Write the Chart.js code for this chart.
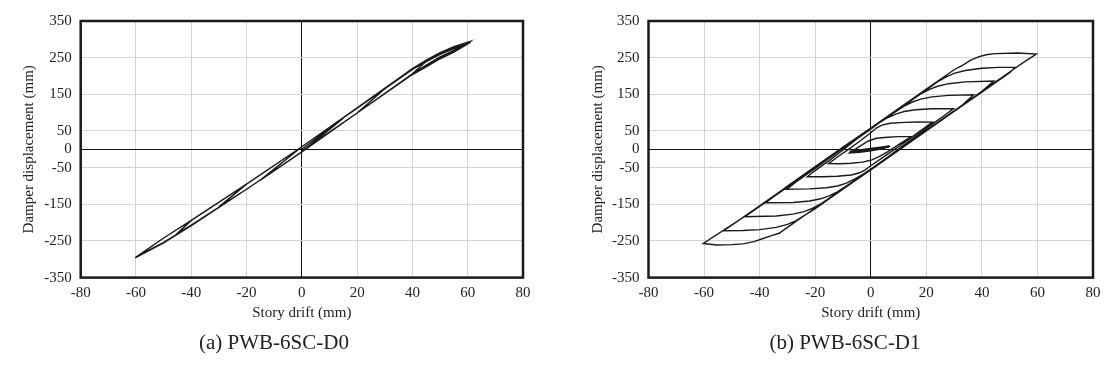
<!DOCTYPE html>
<html>
<head>
<meta charset="utf-8">
<title>Damper displacement vs story drift</title>
<script src="https://cdn.jsdelivr.net/npm/chart.js@4.4.1/dist/chart.umd.min.js"></script>
<style>
  html, body { margin: 0; padding: 0; background: #fff; }
  #wrap { position: relative; width: 1113px; height: 366px; overflow: hidden; }
  canvas { position: absolute; top: 0; }
  #chartA { left: 0; }
  #chartB { left: 556px; }
  .caption {
    position: absolute; top: 332px; line-height: 21px;
    font-family: "Liberation Serif", serif; font-size: 21px; color: #222;
    white-space: nowrap; transform: translateX(-50%);
  }
</style>
</head>
<body>
<div id="wrap">
  <canvas id="chartA" width="556" height="366"></canvas>
  <canvas id="chartB" width="557" height="366"></canvas>
  <div class="caption" id="capA" style="left:274px"></div>
  <div class="caption" id="capB" style="left:845px"></div>
</div>

<script>
/* =========================
   DATA
========================= */
const xTicks = [-80, -60, -40, -20, 0, 20, 40, 60, 80];
const yTicks = [-350, -250, -150, -50, 0, 50, 150, 250, 350];

const xTitle = "Story drift (mm)";
const yTitle = "Damper displacement (mm)";
const captions = ["(a) PWB-6SC-D0", "(b) PWB-6SC-D1"];

// (a) PWB-6SC-D0 : [story drift, damper displacement]
const curveA = [
  [0,0],[15,85],[0,-7],[-15,-84],
  [0,7],[20,113],[30,165],[20,99],[0,-7],[-20,-109],[-30,-157],
  [-20,-95],[0,7],[20,113],[40,220],[45,240],[40,206],[20,99],[0,-7],[-20,-109],[-40,-207],[-45,-229],
  [-40,-194],[-20,-95],[0,7],[20,113],[40,220],[45,243],[50,264],[55,280],[60.3,293],
  [55,270],[50,252],[45,230],[40,206],[20,99],[0,-7],[-20,-109],[-40,-208],[-50,-255],[-60.3,-296],
  [-50,-242],[-40,-194],[-20,-95],[0,7],[20,113],[40,219],[45,241],[50,262],[55,278],[60,289],
  [55,267],[50,249],[45,227],[40,205],[20,99],[0,-7],[-20,-109],[-40,-208],[-50,-254],[-60,-294],
  [-50,-242],[-40,-194],[-20,-95],[0,7],[20,112],[40,218],[45,239],[50,259],[55,275],[59.5,285],
  [55,265],[50,247],[45,225],[40,204],[20,99],[0,-5]
];

// (b) PWB-6SC-D1 : [story drift, damper displacement]
const curveB = [
  [0,0],[3,3],[6.5,6],[4,2.5],[0,-2],[-4,-5],[-7.5,-7],
  [-4,-3.5],[0,0],[3.5,4],[6.8,7],[4,3],[0,-2.5],[-4,-6],[-7.7,-8.5],
  [-4,-2],[0,2],[3.5,6],[6.5,9],[4,4.5],[0,-0.5],[-4,-4.5],[-7.5,-5.5],
  [-4,-1.5],[0,1.5],[3.5,5],[6.8,7.5],[4,1.5],[0,-4],[-4,-7.5],[-7.8,-9],
  [-4,-4],[0,0.5],[3.5,5],[7,8],[4,2],[0,-4],[-4,-8],[-7.6,-10],
  [-4,8],[-1,22],[2,30],[6,33],[10,34.5],[14.8,35],
  [13,27],[10,13],[6,-7],[3,-20],[0,-30],[-3,-35],[-7,-38],[-11,-39.5],[-15.2,-39],
  [-12,-21],[-8,0],[-4,22],[0,45],[2,58],[4,66],[7,71],[12,73.5],[17,74.5],[22.2,74],
  [20,62],[16,40],[12,18],[8,-3],[4,-24],[0,-45],[-2,-56],[-4,-64],[-7,-70],[-12,-73.5],[-17,-75],[-22.8,-75],
  [-20,-58],[-15,-31],[-10,-2],[-5,28],[0,55],[3,72],[6,86],[9,96],[12,103],[16,108],[22,110.5],[29.8,111],
  [27,95],[22,68],[17,40],[12,12],[6,-22],[0,-54],[-3,-69],[-6,-82],[-9,-93],[-12,-100],[-16,-105],[-22,-108],[-30.2,-109],
  [-27,-90],[-20,-52],[-10,3],[0,56],[5,83],[9,103],[12,118],[15,129],[18,137],[22,143],[28,147],[37,149],
  [33,121],[25,77],[15,24],[5,-29],[0,-55],[-5,-81],[-9,-101],[-12,-116],[-15,-127],[-18,-135],[-22,-141],[-28,-145],[-37.8,-146],
  [-30,-100],[-20,-47],[-10,6],[0,58],[10,111],[15,136],[18,151],[21,163],[24,172],[28,179],[34,184],[44.3,186],
  [40,158],[30,105],[20,52],[10,-1],[0,-54],[-10,-107],[-15,-134],[-18,-149],[-21,-161],[-24,-170],[-28,-177],[-34,-182],[-45.3,-184],
  [-40,-156],[-30,-103],[-20,-50],[-10,3],[0,56],[10,109],[20,162],[24,184],[27,197],[30,207],[34,215],[40,221],[46,223.5],[52,224],
  [50,209],[40,156],[30,103],[20,50],[10,-3],[0,-56],[-10,-109],[-20,-162],[-24,-181],[-27,-195],[-30,-205],[-34,-213],[-40,-219],[-46,-221.5],[-53,-222],
  [-50,-207],[-40,-154],[-30,-101],[-20,-48],[-10,5],[0,58],[10,111],[20,164],[30,217],[33,229],[36,243],[39,253],[42,258.5],[45,261],[53,262.5],[59.6,260],
  [55,237],[50,211],[40,158],[30,105],[20,52],[10,-1],[0,-54],[-10,-107],[-20,-160],[-30,-213],[-33,-229],[-36,-236],[-39,-244],[-42,-252],[-46,-258],[-50,-260],[-55.5,-261],[-60.3,-257],
  [-50,-206],[-40,-156],[-30,-103],[-20,-50],[-12,-8]
];

/* =========================
   STYLE
========================= */
const FONT = "'Liberation Serif', 'Times New Roman', serif";
const TEXT = "#222";
const GRID = "#d4d4d4";
const AXIS0 = "#111";

document.getElementById("capA").textContent = captions[0];
document.getElementById("capB").textContent = captions[1];

// black frame round the plot area
const framePlugin = {
  id: "frame",
  afterDatasetsDraw(chart) {
    const { ctx, chartArea: a } = chart;
    ctx.save();
    ctx.strokeStyle = "#1a1a1a";
    ctx.lineWidth = 2.5;
    ctx.strokeRect(a.left, a.top, a.right - a.left, a.bottom - a.top);
    ctx.restore();
  }
};

function gridColor(c) {
  return c.tick && c.tick.value === 0 ? AXIS0 : GRID;
}

function makeChart(canvasId, curve, pad, yWidth) {
  const ctx = document.getElementById(canvasId).getContext("2d");
  return new Chart(ctx, {
    type: "scatter",
    data: {
      datasets: [{
        data: curve.map(p => ({ x: p[0], y: p[1] })),
        showLine: true,
        pointRadius: 0,
        borderColor: "#1a1a1a",
        borderWidth: 1.4,
        tension: 0
      }]
    },
    options: {
      responsive: false,
      animation: false,
      devicePixelRatio: 1,
      layout: { padding: pad },
      plugins: { legend: { display: false }, tooltip: { enabled: false } },
      scales: {
        x: {
          type: "linear", min: -80, max: 80,
          afterBuildTicks: s => { s.ticks = xTicks.map(v => ({ value: v })); },
          afterFit: s => { s.height = 50; },
          ticks: { color: TEXT, font: { family: FONT, size: 15 }, padding: 6, maxRotation: 0 },
          grid: { color: gridColor, lineWidth: 1, drawTicks: false },
          border: { display: false },
          title: { display: true, text: xTitle, color: TEXT,
                   font: { family: FONT, size: 15 }, padding: { top: 0, bottom: 5.6 } }
        },
        y: {
          type: "linear", min: -350, max: 350,
          afterBuildTicks: s => { s.ticks = yTicks.map(v => ({ value: v })); },
          afterFit: s => { s.width = yWidth; },
          ticks: { color: TEXT, font: { family: FONT, size: 15 }, padding: 9 },
          grid: { color: gridColor, lineWidth: 1, drawTicks: false },
          border: { display: false },
          title: { display: true, text: yTitle, color: TEXT,
                   font: { family: FONT, size: 15 }, padding: { top: 10, bottom: 0 } }
        }
      }
    },
    plugins: [framePlugin]
  });
}

/* =========================
   CHARTS
========================= */
makeChart("chartA", curveA, { left: 10, right: 33, top: 21, bottom: 38.4 }, 70.7);
makeChart("chartB", curveB, { left: 23, right: 20, top: 21, bottom: 38.4 }, 69.5);
</script>
</body>
</html>
